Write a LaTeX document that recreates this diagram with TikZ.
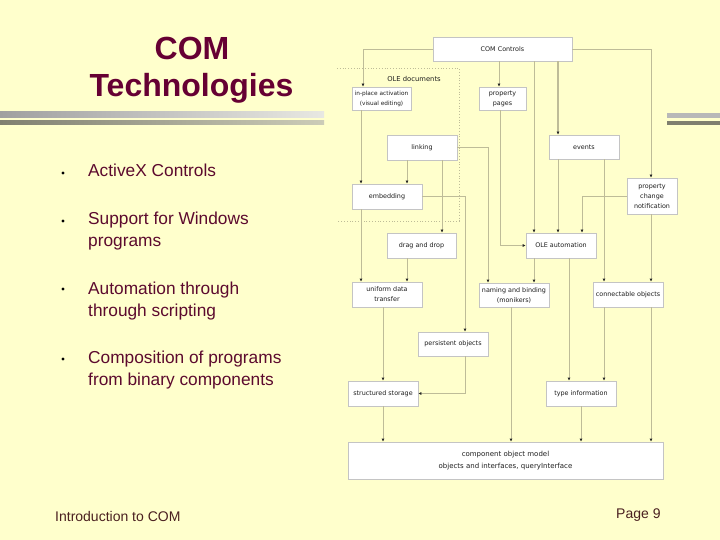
\documentclass[tikz,border=0pt]{standalone}
\usepackage{fontspec}
\setmainfont{Liberation Sans}
\newfontfamily\boxfont{DejaVu Sans}
\usetikzlibrary{arrows.meta}
\definecolor{bgy}{HTML}{FFFFCC}
\definecolor{titlec}{HTML}{660033}
\definecolor{textc}{HTML}{5C0A2E}
\definecolor{linec}{HTML}{BEBC98}
\definecolor{boxline}{HTML}{C4C4C4}
\definecolor{boxtext}{HTML}{1E1E1E}
\definecolor{footc}{HTML}{4A2020}
\definecolor{barAl}{HTML}{A0A0A0}
\definecolor{barAr}{HTML}{E8E8E2}
\definecolor{barBl}{HTML}{808070}
\definecolor{barBr}{HTML}{CCCCB8}
\definecolor{barAs}{HTML}{B8B8B8}
\definecolor{barBs}{HTML}{7F7F6F}
\tikzset{
  box/.style={draw=boxline, line width=0.6pt, fill=white, inner sep=0pt, align=center,
    text=boxtext, font={\boxfont\fontsize{6.4}{10}\selectfont}},
  conn/.style={draw=linec, line width=0.8pt, -{Latex[length=3pt,width=3pt,color=black!85]}},
  bullettext/.style={anchor=base west, text=textc, font={\fontsize{17.3}{22}\selectfont}, inner sep=0pt},
  bulletdot/.style={circle, fill=black, inner sep=0pt, minimum size=3.2pt}
}
\begin{document}
\begin{tikzpicture}[x=1pt,y=-1pt]
\useasboundingbox (0,0) rectangle (720,540);
\fill[bgy] (0,0) rectangle (720,540);
% title
\node[anchor=base, text=titlec, font={\fontsize{32}{38}\selectfont\bfseries}, inner sep=0pt] (t1) at (192,60) {COM};
\node[anchor=base, text=titlec, font={\fontsize{32}{38}\selectfont\bfseries}, inner sep=0pt] (t2) at (191.5,97) {Technologies};
% bars
\shade[left color=barAl, right color=barAr] (0,112) rectangle (324,118);
\shade[left color=barBl, right color=barBr] (0,121) rectangle (324,125);
\fill[barAs] (667,113) rectangle (720,118);
\fill[barBs] (667,121) rectangle (720,125);
% bullets
\node[bulletdot] (d1) at (63,173) {};
\node[bulletdot] (d2) at (63,221) {};
\node[bulletdot] (d3) at (63,289) {};
\node[bulletdot] (d4) at (63,359) {};
\node[bullettext] (b1) at (88,177) {ActiveX Controls};
\node[bullettext] (b2a) at (88,225) {Support for Windows};
\node[bullettext] (b2b) at (88,247) {programs};
\node[bullettext] (b3a) at (88,294) {Automation through};
\node[bullettext] (b3b) at (88,316) {through scripting};
\node[bullettext] (b4a) at (88,363) {Composition of programs};
\node[bullettext] (b4b) at (88,385) {from binary components};
% footer
\node[anchor=base west, text=footc, font={\fontsize{14}{16}\selectfont}, inner sep=0pt] (f1) at (55,521) {Introduction to COM};
\node[anchor=base west, text=footc, font={\fontsize{14}{16}\selectfont}, inner sep=0pt] (f2) at (616,518) {Page 9};
% OLE documents region
\draw[linec, dotted, line width=0.8pt] (337,68) -| (459,221) -- (337,221);
\node[text=boxtext, font={\boxfont\fontsize{6.8}{8}\selectfont}, inner sep=0pt] (oled) at (414,79) {OLE documents};
% boxes
\node[box, minimum width=139, minimum height=24] (cc) at (502.5,49) {COM Controls};
\node[box, minimum width=59, minimum height=23, font={\boxfont\fontsize{5.8}{10}\selectfont}] (ipa) at (381.5,98.5) {in-place activation\\(visual editing)};
\node[box, minimum width=47, minimum height=23] (pp) at (502.5,98.5) {property\\pages};
\node[box, minimum width=70, minimum height=25] (link) at (422,147.5) {linking};
\node[box, minimum width=70, minimum height=24] (ev) at (584,147) {events};
\node[box, minimum width=50, minimum height=36] (pcn) at (652,196) {property\\change\\notification};
\node[box, minimum width=70, minimum height=25] (emb) at (387,196.5) {embedding};
\node[box, minimum width=69, minimum height=25] (dd) at (421.5,245.5) {drag and drop};
\node[box, minimum width=70, minimum height=25] (olea) at (561,245.5) {OLE automation};
\node[box, minimum width=70, minimum height=25] (udt) at (387,294.5) {uniform data\\transfer};
\node[box, minimum width=70, minimum height=24] (nb) at (514,295) {naming and binding\\(monikers)};
\node[box, minimum width=70, minimum height=25] (co) at (628,294.5) {connectable objects};
\node[box, minimum width=70, minimum height=24] (po) at (453,344) {persistent objects};
\node[box, minimum width=70, minimum height=25] (ss) at (383,393.5) {structured storage};
\node[box, minimum width=70, minimum height=25] (ti) at (581,393.5) {type information};
\node[box, minimum width=315, minimum height=37, font={\boxfont\fontsize{7}{12}\selectfont}] (com) at (505.5,460.5) {component object model\\objects and interfaces, queryInterface};
% connectors
\draw[conn] (cc.west) -| (ipa.north -| 363,0);
\draw[conn] (cc.south -| 499,0) -- (pp.north -| 499,0);
\draw[conn, line width=1.5pt] (cc.south -| 558,0) -- (ev.north -| 558,0);
\draw[conn] (cc.south -| 534,0) -- (olea.north -| 534,0);
\draw[conn] (cc.east) -| (pcn.north -| 651,0);
\draw[conn] (ipa.south -| 361,0) -- (emb.north -| 361,0);
\draw[conn] (link.south -| 407,0) -- (emb.north -| 407,0);
\draw[conn] (link.south -| 442,0) -- (dd.north -| 442,0);
\draw[conn] (link.east) -| (nb.north -| 488,0);
\draw[conn] (pp.south -| 500,0) |- (olea.west);
\draw[conn] (ev.south -| 558,0) -- (olea.north -| 558,0);
\draw[conn] (ev.south -| 604,0) -- (co.north -| 604,0);
\draw[conn] (pcn.west) -| (olea.north -| 582,0);
\draw[conn] (pcn.south -| 651,0) -- (co.north -| 651,0);
\draw[conn] (emb.east) -| (po.north -| 465,0);
\draw[conn] (emb.south -| 361,0) -- (udt.north -| 361,0);
\draw[conn] (dd.south -| 407,0) -- (udt.north -| 407,0);
\draw[conn] (olea.south -| 534,0) -- (nb.north -| 534,0);
\draw[conn] (olea.south -| 569,0) -- (ti.north -| 569,0);
\draw[conn] (udt.south -| 383,0) -- (ss.north -| 383,0);
\draw[conn] (po.south -| 465,0) |- (ss.east);
\draw[conn] (nb.south -| 511,0) -- (com.north -| 511,0);
\draw[conn] (co.south -| 604,0) -- (ti.north -| 604,0);
\draw[conn] (co.south -| 651,0) -- (com.north -| 651,0);
\draw[conn] (ss.south -| 383,0) -- (com.north -| 383,0);
\draw[conn] (ti.south -| 581,0) -- (com.north -| 581,0);
\end{tikzpicture}
\end{document}
